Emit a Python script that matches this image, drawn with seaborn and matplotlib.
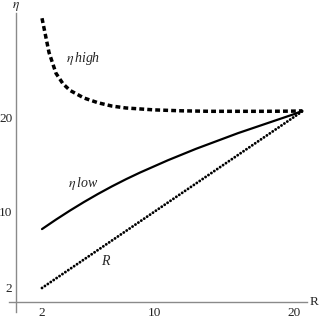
import numpy as np
import pandas as pd
import matplotlib
matplotlib.use("Agg")
import matplotlib.pyplot as plt
import seaborn as sns

# valores
r_high = [2, 2.25, 2.5, 3, 3.5, 4, 5, 6, 7, 8, 10, 12, 14, 16, 18, 20, 20.6]
eta_high = [30.4, 28.6, 26.8, 24.6, 23.5, 22.8, 22.0, 21.5, 21.15, 20.95, 20.75,
            20.65, 20.6, 20.6, 20.6, 20.62, 20.65]

r_low = [2, 3, 4, 5, 6, 7, 8, 9, 10, 11, 12, 13, 14, 15, 16, 17, 18, 19, 20, 20.6]
eta_low = [8.2, 9.2, 10.15, 11.05, 11.9, 12.7, 13.45, 14.15, 14.8, 15.45, 16.05,
           16.65, 17.2, 17.75, 18.3, 18.8, 19.3, 19.8, 20.3, 20.65]

r_line = [2, 20.6]
eta_r = [2, 20.6]

xticks = [2, 10, 20]
yticks = [2, 10, 20]

sns.set_style("white")
plt.rcParams['font.family'] = ['Liberation Serif', 'DejaVu Serif']
plt.rcParams['mathtext.fontset'] = 'stix'

fig = plt.figure(figsize=(3.19, 3.31), dpi=100)
ax = fig.add_axes([9 / 319, 19 / 331, 298 / 319, 299 / 331])

df_high = pd.DataFrame({"R": r_high, "eta": eta_high})
df_low = pd.DataFrame({"R": r_low, "eta": eta_low})
df_r = pd.DataFrame({"R": r_line, "eta": eta_r})

sns.lineplot(data=df_high, x="R", y="eta", ax=ax, color="black", lw=2.5,
             linestyle=(0, (1.4, 0.9)))
sns.lineplot(data=df_low, x="R", y="eta", ax=ax, color="black", lw=1.6)
sns.lineplot(data=df_r, x="R", y="eta", ax=ax, color="black", lw=2.1,
             linestyle=(0, (0.01, 1.2)), dash_capstyle="round")

ax.set_xlim(-0.357, 20.93)
ax.set_ylim(-0.53, 30.95)

gris = "#8a8a8a"
for s in ["top", "right"]:
    ax.spines[s].set_visible(False)
ax.spines["left"].set_position(("data", 0.14))
ax.spines["bottom"].set_position(("data", 0.53))
ax.spines["left"].set_color(gris)
ax.spines["bottom"].set_color(gris)
ax.spines["left"].set_linewidth(1.0)
ax.spines["bottom"].set_linewidth(1.0)

ax.set_xticks(xticks)
ax.set_yticks(yticks)
ax.tick_params(axis="both", direction="inout", length=4, width=0.8, color=gris,
               labelsize=9.5, labelcolor="#222222", pad=2)
ax.tick_params(axis="y", pad=0.5)
ax.set_xlabel("")
ax.set_ylabel("")

ax.text(0.14, 30.95, r"$\eta$", ha="center", va="bottom", fontsize=9.5,
        color="#222222", clip_on=False)
ax.text(21.1, 0.53, "R", ha="left", va="center", fontsize=9.5,
        color="#222222", clip_on=False)

ax.text(4.95, 26.2, r"$\eta\,$" + "high", ha="center", va="center",
        fontsize=10, style="italic")
ax.text(4.95, 13.0, r"$\eta\,$" + "low", ha="center", va="center",
        fontsize=10, style="italic")
ax.text(6.5, 4.77, "R", ha="center", va="center", fontsize=10, style="italic")

fig.savefig("out.png", dpi=100)
